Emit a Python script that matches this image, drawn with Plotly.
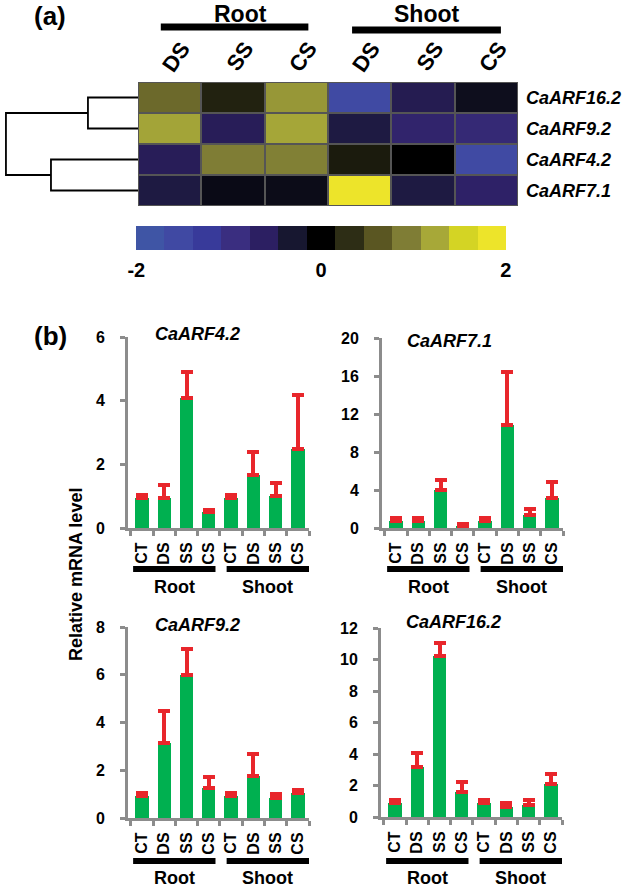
import plotly.graph_objects as go

W, H = 625, 888
FONT = "Liberation Sans, Arial, sans-serif"

def fx(px):
    return px / W

def fy(py):
    return 1 - py / H

# ---------------- Data ----------------
heat_cols = ["DS", "SS", "CS", "DS", "SS", "CS"]
heat_rows = ["CaARF16.2", "CaARF9.2", "CaARF4.2", "CaARF7.1"]
heat_z = [
    [0.83, 0.25, 1.20, -1.70, -0.55, -0.20],
    [1.30, -0.60, 1.32, -0.45, -0.78, -0.88],
    [-0.60, 1.00, 1.02, 0.20, 0.00, -1.70],
    [-0.45, -0.15, -0.17, 2.00, -0.45, -0.72],
]
dendro_heights = [0.379, 0.659, 1.0]

scale_colors = ["#3f55a5", "#4049a3", "#383a9a", "#3a2e80", "#2c1f62", "#171730",
                "#000000", "#2d2d15", "#5a5622", "#7f7d35", "#a7a838", "#d4d424", "#ede42a"]
scale_ticks = ["-2", "0", "2"]

bar_cats = ["CT", "DS", "SS", "CS", "CT", "DS", "SS", "CS"]
groups = ["Root", "Shoot"]

arf42_val = [0.95, 0.94, 4.08, 0.49, 0.95, 1.68, 1.00, 2.48]
arf42_err = [0.08, 0.40, 0.82, 0.09, 0.08, 0.72, 0.42, 1.70]
arf71_val = [0.75, 0.75, 3.95, 0.20, 0.75, 10.8, 1.40, 3.20]
arf71_err = [0.28, 0.30, 1.10, 0.25, 0.28, 5.60, 0.60, 1.60]
arf92_val = [0.92, 3.15, 6.00, 1.25, 0.92, 1.75, 0.82, 1.05]
arf92_err = [0.12, 1.35, 1.08, 0.46, 0.12, 0.95, 0.17, 0.13]
arf162_val = [0.90, 3.15, 10.2, 1.60, 0.90, 0.62, 0.75, 2.10]
arf162_err = [0.15, 0.90, 0.85, 0.65, 0.15, 0.25, 0.33, 0.65]

GREEN = "#00b050"
RED = "#e8262b"
GREY = "#8c8c8c"

colorscale = [[i / (len(scale_colors) - 1), c] for i, c in enumerate(scale_colors)]

fig = go.Figure()
shapes = []
annotations = []

# ---------------- Heatmap (a) ----------------
fig.add_trace(go.Heatmap(
    z=heat_z, x=list(range(len(heat_cols))), y=list(range(len(heat_rows))),
    colorscale=colorscale, zmin=-2, zmax=2, showscale=False, xgap=2, ygap=2,
    hoverinfo="skip", xaxis="x", yaxis="y"))

shapes.append(dict(type="rect", xref="x", yref="y", x0=-0.5, x1=len(heat_cols) - 0.5,
                   y0=-0.5, y1=len(heat_rows) - 0.5, fillcolor="#555555",
                   line=dict(color="#555555", width=2), layer="below"))

# Dendrogram
h1, h2, h3 = dendro_heights
dendro_segments = [
    ([0, h1, h1, 0], [0, 0, 1, 1]),
    ([0, h2, h2, 0], [2, 2, 3, 3]),
    ([h1, h3, h3, h2], [0.5, 0.5, 2.5, 2.5]),
]
for xs, ys in dendro_segments:
    fig.add_trace(go.Scatter(x=xs, y=ys, mode="lines", line=dict(color="black", width=1.8),
                             hoverinfo="skip", showlegend=False, xaxis="x2", yaxis="y2"))

# Color key strip
n = len(scale_colors)
key_vals = [-2 + 4 * i / (n - 1) for i in range(n)]
fig.add_trace(go.Heatmap(z=[key_vals], x=list(range(n)), y=[0], colorscale=colorscale,
                         zmin=-2, zmax=2, showscale=False, hoverinfo="skip",
                         xaxis="x3", yaxis="y3"))

# ---------------- Bar charts (b) ----------------
panels = [
    ("CaARF4.2", arf42_val, arf42_err, 6, 2, "x4", "y4", (128, 309), (337, 528), (197, 334)),
    ("CaARF7.1", arf71_val, arf71_err, 20, 4, "x5", "y5", (382, 563), (338, 528), (449, 341)),
    ("CaARF9.2", arf92_val, arf92_err, 8, 2, "x6", "y6", (128, 309), (627, 818), (197, 625)),
    ("CaARF16.2", arf162_val, arf162_err, 12, 2, "x7", "y7", (381, 562), (628, 817), (453, 622)),
]

xpos = list(range(len(bar_cats)))
layout_axes = {}

for title, vals, errs, ymax, dt, xa, ya, xd, yd, tpos in panels:
    fig.add_trace(go.Bar(
        x=xpos, y=vals, width=0.6, marker=dict(color=GREEN, line=dict(width=0)),
        error_y=dict(type="data", symmetric=False, array=errs, arrayminus=[0] * len(vals),
                     color=RED, thickness=4, width=6),
        xaxis=xa, yaxis=ya, showlegend=False, hoverinfo="skip"))
    xk = "xaxis" + xa[1:]
    yk = "yaxis" + ya[1:]
    layout_axes[xk] = dict(
        domain=[fx(xd[0]), fx(xd[1])], anchor=ya, range=[-0.63, 7.5], automargin=False,
        tickmode="array", tickvals=xpos, ticktext=bar_cats, tickangle=-90,
        ticks="", showline=True, linecolor=GREY, linewidth=3, showgrid=False, zeroline=False,
        tickfont=dict(family=FONT, size=16, color="black", weight="bold"),
        ticklabelstandoff=5,
        minor=dict(tickmode="array", tickvals=[i - 0.5 for i in range(len(bar_cats) + 1)],
                   ticks="outside", ticklen=5, tickwidth=2.5, tickcolor=GREY, showgrid=False),
        fixedrange=True)
    layout_axes[yk] = dict(
        domain=[fy(yd[1]), fy(yd[0])], anchor=xa, range=[0, ymax], dtick=dt, tick0=0,
        automargin=False,
        showline=True, linecolor=GREY, linewidth=3, showgrid=False, zeroline=False,
        ticks="outside", ticklen=5, tickwidth=2.5, tickcolor=GREY,
        tickfont=dict(family=FONT, size=16, color="black", weight="bold"),
        ticklabelstandoff=12, fixedrange=True)
    annotations.append(dict(x=fx(tpos[0]), y=fy(tpos[1]), xref="paper", yref="paper",
                            text=title, showarrow=False, xanchor="center", yanchor="middle",
                            font=dict(family=FONT, size=18, color="black", weight="bold",
                                      style="italic")))
    bar_y = 569 if yd[0] < 400 else 861
    lab_y = 587 if yd[0] < 400 else 878
    for gname, (g0, g1) in zip(groups, [(-0.4, 3.3), (3.8, 7.5)]):
        shapes.append(dict(type="line", xref=xa, yref="paper", x0=g0, x1=g1,
                           y0=fy(bar_y), y1=fy(bar_y), line=dict(color="black", width=6)))
        annotations.append(dict(x=(g0 + g1) / 2, y=fy(lab_y), xref=xa, yref="paper",
                                text=gname, showarrow=False, xanchor="center", yanchor="middle",
                                font=dict(family=FONT, size=18, color="black", weight="bold")))

# ---------------- Heatmap annotations ----------------
for i, c in enumerate(heat_cols):
    annotations.append(dict(x=i, y=fy(57), xref="x", yref="paper", text=c, showarrow=False,
                            xanchor="center", yanchor="middle", xshift=7, textangle=-55,
                            font=dict(family=FONT, size=22, color="black", weight="bold")))
for j, r in enumerate(heat_rows):
    annotations.append(dict(x=fx(524), y=j, xref="paper", yref="y", text=r, showarrow=False,
                            xanchor="left", yanchor="middle",
                            font=dict(family=FONT, size=18, color="black", weight="bold",
                                      style="italic")))
for gname, (g0, g1), by, lx in zip(groups, [(-0.14, 2.19), (2.88, 5.23)], [27, 30], [1.12, 4.06]):
    shapes.append(dict(type="line", xref="x", yref="paper", x0=g0, x1=g1, y0=fy(by), y1=fy(by),
                       line=dict(color="black", width=7)))
    annotations.append(dict(x=lx, y=fy(14), xref="x", yref="paper", text=gname, showarrow=False,
                            xanchor="center", yanchor="middle",
                            font=dict(family=FONT, size=23, color="black", weight="bold")))

annotations.append(dict(x=fx(50), y=fy(16), xref="paper", yref="paper", text="(a)",
                        showarrow=False, xanchor="center", yanchor="middle",
                        font=dict(family=FONT, size=26, color="black", weight="bold")))
annotations.append(dict(x=fx(50), y=fy(336), xref="paper", yref="paper", text="(b)",
                        showarrow=False, xanchor="center", yanchor="middle",
                        font=dict(family=FONT, size=26, color="black", weight="bold")))
annotations.append(dict(x=fx(76), y=fy(575), xref="paper", yref="paper",
                        text="Relative mRNA level", showarrow=False, textangle=-90,
                        xanchor="center", yanchor="middle",
                        font=dict(family=FONT, size=18, color="black", weight="bold")))

hidden = dict(visible=False, fixedrange=True, automargin=False, showgrid=False, zeroline=False)

fig.update_layout(
    template="none",
    width=W, height=H, margin=dict(l=0, r=0, t=0, b=0, pad=0), autosize=False,
    paper_bgcolor="white", plot_bgcolor="white", showlegend=False, bargap=0,
    xaxis=dict(domain=[fx(138), fx(518)], anchor="y", range=[-0.5, 5.5], **hidden),
    yaxis=dict(domain=[fy(206), fy(82)], anchor="x", range=[3.5, -0.5], **hidden),
    xaxis2=dict(domain=[0, fx(138)], anchor="y2", range=[1.045, 0], **hidden),
    yaxis2=dict(domain=[fy(206), fy(82)], anchor="x2", range=[3.5, -0.5], **hidden),
    xaxis3=dict(domain=[fx(136), fx(506)], anchor="y3", range=[-0.5, n - 0.5], automargin=False,
                tickmode="array", tickvals=[-0.49, (n - 1) / 2, n - 1 + 0.49], ticktext=scale_ticks,
                ticks="", showline=False, showgrid=False, zeroline=False,
                tickfont=dict(family=FONT, size=20, color="black", weight="bold"),
                ticklabelstandoff=6, fixedrange=True),
    yaxis3=dict(domain=[fy(250), fy(226)], anchor="x3", range=[-0.5, 0.5], **hidden),
    annotations=annotations, shapes=shapes,
    **layout_axes,
)

fig.write_html("out.html", config=dict(displayModeBar=False),
               post_script="document.body.style.margin='0px';document.body.style.overflow='hidden';")
